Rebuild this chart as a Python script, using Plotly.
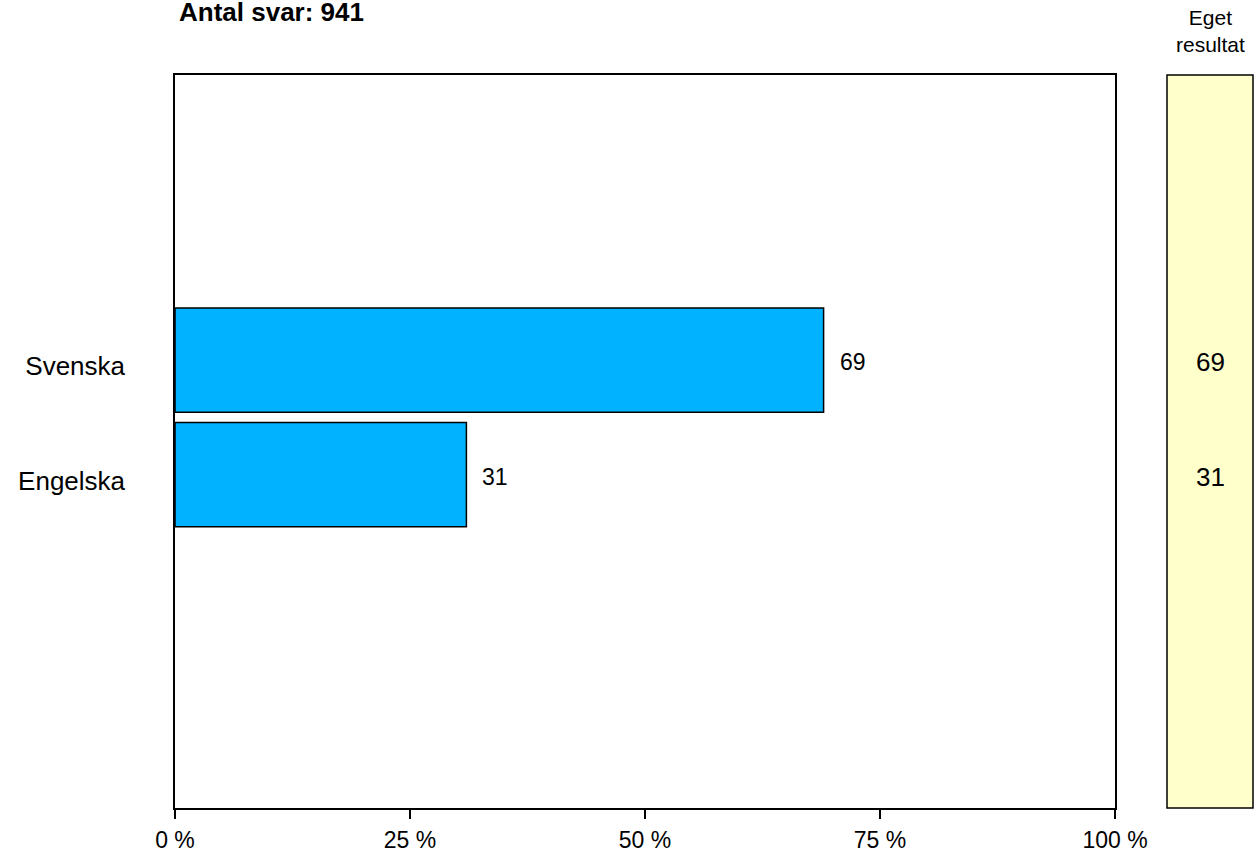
import plotly.graph_objects as go

categories = ["Svenska", "Engelska"]
values = [69, 31]
own_values = [69, 31]
tick_vals = [0, 25, 50, 75, 100]
tick_text = ["0 %", "25 %", "50 %", "75 %", "100 %"]
title_text = "Antal svar: 941"
panel_title = "Eget<br>resultat"

W, H = 1256, 853
FONT = "Liberation Sans, Arial, sans-serif"

fig = go.Figure()
fig.add_trace(go.Bar(
    y=categories, x=values, orientation="h",
    marker=dict(color="#00B2FF", line=dict(color="#000000", width=1.5)),
    width=0.91, xaxis="x", yaxis="y", hoverinfo="skip",
))
# value labels next to bars
for c, v in zip(categories, values):
    fig.add_annotation(x=v, y=c, xref="x", yref="y", text=str(v), showarrow=False,
                       xanchor="left", xshift=14, yshift=-2,
                       font=dict(family=FONT, size=23, color="#000"))
# own result panel
fig.add_shape(type="rect", xref="x2 domain", yref="y domain", x0=0, x1=1, y0=0, y1=1,
              fillcolor="#FFFFCC", line=dict(color="#000", width=1.5), layer="below")
for c, v in zip(categories, own_values):
    fig.add_annotation(x=0.5, y=c, xref="x2", yref="y", text=str(v), showarrow=False,
                       xanchor="center", yanchor="middle", yshift=-2,
                       font=dict(family=FONT, size=26, color="#000"))

fig.add_annotation(text=title_text, xref="paper", yref="paper", x=0.0, y=1 + 63 / 733,
                   xanchor="left", yanchor="middle", xshift=2, showarrow=False,
                   font=dict(family=FONT, size=26, color="#000", weight="bold"))
fig.add_annotation(text=panel_title, xref="x2 domain", yref="paper", x=0.5,
                   y=1 + (75 - 31) / 733, xanchor="center", yanchor="middle",
                   showarrow=False,
                   font=dict(family=FONT, size=21, color="#000"))

fig.update_layout(
    width=W, height=H, autosize=False,
    margin=dict(l=175, r=3, t=75, b=45, autoexpand=False),
    paper_bgcolor="white", plot_bgcolor="white",
    showlegend=False,
    font=dict(family=FONT, size=22, color="#000"),
    xaxis=dict(domain=[0, 940 / 1078], range=[0, 100], tickvals=tick_vals, ticktext=tick_text,
               ticks="outside", ticklen=9, tickwidth=1.5, tickcolor="#000",
               ticklabelstandoff=2,
               showline=True, linecolor="#000", linewidth=1.5, mirror=True,
               showgrid=False, zeroline=False, fixedrange=True, automargin=False,
               tickfont=dict(family=FONT, size=23)),
    xaxis2=dict(domain=[992 / 1078, 1.0], range=[0, 1], visible=False, fixedrange=True,
                automargin=False),
    yaxis=dict(type="category", categoryorder="array", categoryarray=categories[::-1],
               range=[-2.91, 3.49], showgrid=False, zeroline=False,
               showline=True, linecolor="#000", linewidth=1.5, mirror=True,
               ticks="", ticklabelstandoff=43, ticklabelshift=6, automargin=False,
               tickfont=dict(family=FONT, size=26), fixedrange=True),
)

fig.write_html("out.html", config={"displayModeBar": False, "responsive": False},
               post_script="document.body.style.margin='0px';")
